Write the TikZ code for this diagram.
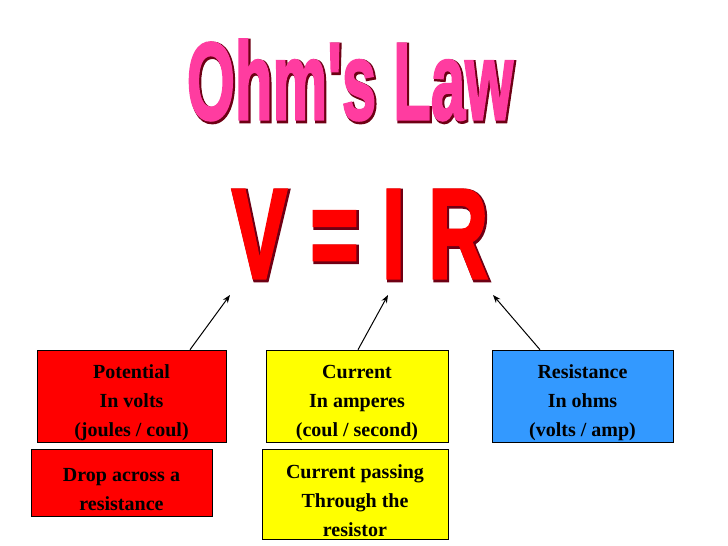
\documentclass[tikz,border=0pt]{standalone}
\usepackage{fontspec}
\setmainfont{Liberation Serif}
\newfontfamily\headfont{Liberation Sans}[BoldFeatures={FakeBold=2.5}]
\newfontfamily\shadfont{Liberation Sans}[BoldFeatures={FakeBold=4.5}]
\usetikzlibrary{arrows.meta}
\definecolor{pinkt}{RGB}{255,60,160}
\definecolor{redt}{RGB}{255,0,0}
\definecolor{shad}{RGB}{110,0,20}
\definecolor{boxred}{RGB}{255,0,0}
\definecolor{boxyel}{RGB}{255,255,0}
\definecolor{boxblue}{RGB}{51,153,255}
\tikzset{
  infobox/.style={draw=black, line width=0.6pt, inner sep=0pt},
  lbl/.style={align=center, yshift=-7pt, font=\fontsize{20}{29}\selectfont\bfseries},
  arr/.style={-{Stealth[length=8pt,width=6pt]}, line width=1pt}
}
\begin{document}
\begin{tikzpicture}[x=1pt,y=-1pt]
\useasboundingbox (0,0) rectangle (728,546);
% title
\node[text=shad] at (351.5,81.5) {\scalebox{0.56}[1]{\shadfont\bfseries\fontsize{110}{110}\selectfont Ohm's Law}};
\node[text=pinkt] (title) at (350,80) {\scalebox{0.56}[1]{\headfont\bfseries\fontsize{110}{110}\selectfont Ohm's Law}};
\node[text=shad] at (361.5,235.5) {\scalebox{0.65}[1]{\shadfont\bfseries\fontsize{128}{128}\selectfont V = I R}};
\node[text=redt] (eq) at (360,234) {\scalebox{0.65}[1]{\headfont\bfseries\fontsize{128}{128}\selectfont V = I R}};
% boxes
\node[infobox, fill=boxred, minimum width=189pt, minimum height=92pt, label={[lbl]center:{Potential\\In volts\\(joules / coul)}}] (v1) at (131.5,396) {};
\node[infobox, fill=boxred, minimum width=181pt, minimum height=67pt, label={[lbl]center:{Drop across a\\resistance}}] (v2) at (121.5,482.5) {};
\node[infobox, fill=boxyel, minimum width=182pt, minimum height=92pt, label={[lbl]center:{Current\\In amperes\\(coul / second)}}] (i1) at (357,396) {};
\node[infobox, fill=boxyel, minimum width=186pt, minimum height=90pt, label={[lbl]center:{Current passing\\Through the\\resistor}}] (i2) at (355,494) {};
\node[infobox, fill=boxblue, minimum width=181pt, minimum height=92pt, label={[lbl]center:{Resistance\\In ohms\\(volts / amp)}}] (r1) at (582.5,396) {};
% arrows
\coordinate (va) at (230,295);
\coordinate (ia) at (388,295);
\coordinate (ra) at (493,295);
\draw[arr] (v1.north -| 190,0) -- (va);
\draw[arr] (i1.north -| 358,0) -- (ia);
\draw[arr] (r1.north -| 540,0) -- (ra);
\end{tikzpicture}
\end{document}
